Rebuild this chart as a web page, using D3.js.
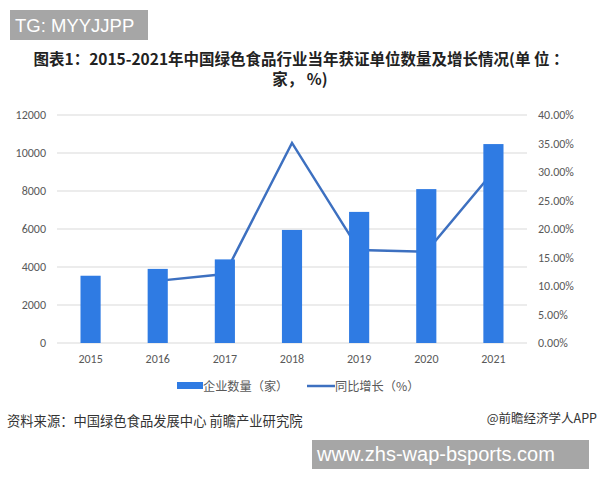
<!DOCTYPE html>
<html>
<head>
<meta charset="utf-8">
<script src="https://cdn.jsdelivr.net/npm/d3@7"></script>
<style>
  body { margin:0; background:#fff; }
  text { font-family: "Noto Sans CJK SC", "Microsoft YaHei", sans-serif; }
</style>
</head>
<body>
<div id="content"></div>
<script>
// data
const years = ["2015","2016","2017","2018","2019","2020","2021"];
const counts = [3540, 3900, 4400, 5950, 6900, 8100, 10470];   // 企业数量（家）
const growth = [null, 10.9, 12.1, 35.1, 16.3, 16.0, 30.1];    // 同比增长（%）
const leftTicks = [0, 2000, 4000, 6000, 8000, 10000, 12000];
const rightTicks = [0, 5, 10, 15, 20, 25, 30, 35, 40];

const W = 600, H = 480;
const barColor = "#2f7be3", lineColor = "#3d70c0";
const numFont = "Calibri, Carlito, 'Open Sans', sans-serif";

const svg = d3.select("#content").append("svg")
    .attr("width", W).attr("height", H);
svg.append("rect").attr("width", W).attr("height", H).attr("fill", "#fff");

// top-left tag
svg.append("rect").attr("x", 10).attr("y", 10).attr("width", 138).attr("height", 30).attr("fill", "#a6a6a6");
svg.append("text").attr("x", 15).attr("y", 32).attr("fill", "#fff")
    .style("font-family", "Liberation Sans, Arial, sans-serif").attr("font-size", 18.5)
    .text("TG: MYYJJPP");

// title
const title = svg.append("text").attr("text-anchor", "middle")
    .attr("font-weight", "bold").attr("font-size", 15.5).attr("fill", "#222");
title.append("tspan").attr("x", 301).attr("y", 65).text("图表1：2015-2021年中国绿色食品行业当年获证单位数量及增长情况(单 位 ：");
title.append("tspan").attr("x", 300).attr("y", 85).text("家， %)");

// scales
const x = d3.scaleBand().domain(years).range([57, 527]).paddingInner(0.7).paddingOuter(0.35);
const yL = d3.scaleLinear().domain([0, 12000]).range([343, 115]);
const yR = d3.scaleLinear().domain([0, 40]).range([343, 115]);

// gridlines
svg.append("g").selectAll("line").data(leftTicks).enter().append("line")
    .attr("x1", 57).attr("x2", 527)
    .attr("y1", d => yL(d)).attr("y2", d => yL(d))
    .attr("stroke", "#d9d9d9").attr("stroke-width", 1);

// axes labels
const leftAxis = d3.axisLeft(yL).tickValues(leftTicks).tickSize(0).tickPadding(0)
    .tickFormat(d3.format("d"));
svg.append("g").attr("transform", "translate(46,0)").call(leftAxis)
    .call(g => g.select(".domain").remove())
    .selectAll("text").attr("font-size", 12).attr("fill", "#595959")
    .style("font-family", numFont);

const rightAxis = d3.axisRight(yR).tickValues(rightTicks).tickSize(0).tickPadding(0)
    .tickFormat(d => d.toFixed(2) + "%");
svg.append("g").attr("transform", "translate(538,0)").call(rightAxis)
    .call(g => g.select(".domain").remove())
    .selectAll("text").attr("font-size", 12).attr("fill", "#595959")
    .style("font-family", numFont);

const bottomAxis = d3.axisBottom(x).tickSize(0).tickPadding(0);
svg.append("g").attr("transform", "translate(0,354)").call(bottomAxis)
    .call(g => g.select(".domain").remove())
    .selectAll("text").attr("font-size", 12).attr("fill", "#595959")
    .style("font-family", numFont);

// line drawn first: bars cover it
const pts = years.map((y, i) => ({ year: y, v: growth[i] })).filter(d => d.v !== null);
const line = d3.line().x(d => x(d.year) + x.bandwidth() / 2).y(d => yR(d.v));
svg.append("path").datum(pts).attr("d", line)
    .attr("fill", "none").attr("stroke", lineColor).attr("stroke-width", 2.5);

// bars
svg.append("g").selectAll("rect").data(years).enter().append("rect")
    .attr("x", d => x(d)).attr("width", x.bandwidth())
    .attr("y", (d, i) => yL(counts[i]))
    .attr("height", (d, i) => yL(0) - yL(counts[i]))
    .attr("fill", barColor);

// legend
svg.append("rect").attr("x", 177).attr("y", 382).attr("width", 26).attr("height", 7).attr("fill", barColor);
svg.append("text").attr("x", 203).attr("y", 391).attr("font-size", 12.2).attr("fill", "#595959").text("企业数量（家）");
svg.append("line").attr("x1", 307).attr("x2", 335).attr("y1", 386).attr("y2", 386)
    .attr("stroke", lineColor).attr("stroke-width", 2.5);
svg.append("text").attr("x", 335).attr("y", 391).attr("font-size", 12.2).attr("fill", "#595959").text("同比增长（%）");

// source
svg.append("text").attr("x", 7).attr("y", 426).attr("font-size", 13.3).attr("fill", "#333")
    .text("资料来源：中国绿色食品发展中心 前瞻产业研究院");
svg.append("text").attr("x", 597).attr("y", 423).attr("text-anchor", "end").attr("font-size", 12.5).attr("fill", "#333")
    .text("@前瞻经济学人APP");

// bottom-right tag
svg.append("rect").attr("x", 312).attr("y", 440).attr("width", 277).attr("height", 29).attr("fill", "#a6a6a6");
svg.append("text").attr("x", 317).attr("y", 461).attr("fill", "#fff")
    .style("font-family", "Liberation Sans, Arial, sans-serif").attr("font-size", 20)
    .text("www.zhs-wap-bsports.com");
</script>
</body>
</html>
